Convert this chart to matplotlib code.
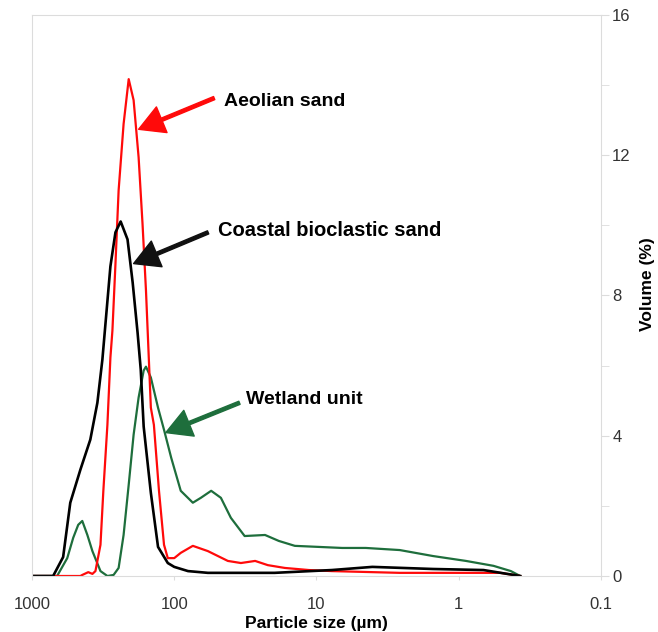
import matplotlib
matplotlib.use('Agg')
import matplotlib.pyplot as plt
import numpy as np

plt.rcParams['font.family'] = ['Liberation Sans', 'DejaVu Sans']

# particle size (um) and volume (%)
aeolian_size = [1000, 634, 457, 443, 402, 376, 358, 330, 315, 295, 281, 272, 259, 246,
                227, 209, 193, 178, 167, 158, 151, 146, 139, 128, 118, 111, 100, 90,
                74, 58, 42, 34, 27, 22, 16.7, 11.3, 7.8, 2.6, 0.89, 0.51, 0.37]
aeolian_vol = [0, 0, 0, 0.03, 0.11, 0.06, 0.14, 0.89, 2.43, 4.31, 6.23, 7.0, 8.89, 11.0,
               12.89, 14.17, 13.57, 11.94, 10.03, 8.14, 6.23, 4.8, 4.31, 2.43, 0.89, 0.51,
               0.51, 0.66, 0.86, 0.71, 0.43, 0.37, 0.43, 0.31, 0.23, 0.17, 0.14, 0.09,
               0.09, 0.09, 0]

coastal_size = [1000, 710, 604, 538, 457, 389, 347, 320, 281, 259, 238, 213, 196, 181,
                172, 164, 146, 130, 111, 100, 80, 58, 19.7, 7.8, 4.05, 1.52, 0.67, 0.37]
coastal_vol = [0, 0, 0.54, 2.09, 3.03, 3.89, 4.94, 6.17, 8.83, 9.8, 10.11, 9.6, 8.37,
               6.94, 5.89, 4.26, 2.37, 0.83, 0.37, 0.26, 0.14, 0.09, 0.09, 0.17, 0.26,
               0.2, 0.17, 0]

wetland_size = [1000, 666, 565, 513, 473, 443, 408, 376, 330, 295, 267, 246, 227, 209,
                193, 178, 164, 158, 146, 130, 118, 105, 90, 74, 65, 55, 47, 40, 32, 23,
                18.4, 14.2, 6.6, 4.5, 2.6, 1.52, 0.89, 0.57, 0.43, 0.37]
wetland_vol = [0, 0, 0.51, 1.09, 1.46, 1.57, 1.17, 0.71, 0.14, 0, 0.03, 0.23, 1.17, 2.6,
               4.03, 5.09, 5.86, 5.97, 5.66, 4.8, 4.17, 3.37, 2.43, 2.09, 2.23, 2.43,
               2.23, 1.66, 1.14, 1.17, 1.0, 0.86, 0.8, 0.8, 0.74, 0.57, 0.43, 0.29,
               0.14, 0]

red = '#ff0a0a'
green = '#1e6e3c'
grey = '#dcdcdc'

fig = plt.figure(figsize=(6.58, 6.32), dpi=100)
ax = fig.add_axes([0.0486, 0.0886, 0.8648, 0.8877])

ax.plot(wetland_size, wetland_vol, color=green, lw=1.6, solid_joinstyle='round')
ax.plot(aeolian_size, aeolian_vol, color=red, lw=1.6, solid_joinstyle='round')
ax.plot(coastal_size, coastal_vol, color='black', lw=1.9, solid_joinstyle='round')

ax.set_xscale('log')
ax.set_xlim(1000, 0.1)
ax.set_ylim(0, 16)
ax.set_xticks([1000, 100, 10, 1, 0.1])
ax.set_xticklabels(['1000', '100', '10', '1', '0.1'])
ax.xaxis.set_minor_locator(matplotlib.ticker.NullLocator())
ax.yaxis.tick_right()
ax.yaxis.set_label_position('right')
ax.set_yticks([0, 4, 8, 12, 16])
ax.set_yticks([2, 6, 10, 14], minor=True)

for s in ax.spines.values():
    s.set_color(grey)
    s.set_linewidth(0.8)
ax.tick_params(axis='both', which='both', color=grey, labelsize=12, labelcolor='#333333')
ax.tick_params(axis='y', which='both', length=6, pad=2)
ax.tick_params(axis='x', length=3, pad=12)

ax.set_xlabel('Particle size (\u00b5m)', fontsize=12.5, fontweight='bold', labelpad=3)
ax.set_ylabel('Volume (%)', fontsize=12.5, fontweight='bold')
ax.yaxis.set_label_coords(1.068, 0.52)

# labels with arrows
arrow_kw = dict(width=2.4, headwidth=20, headlength=18, shrink=0)
ax.annotate('', xy=(178, 12.74), xytext=(52.4, 13.63),
            arrowprops=dict(color=red, **arrow_kw))
ax.text(44.5, 13.54, 'Aeolian sand', fontsize=14, fontweight='bold', va='center', ha='left')

ax.annotate('', xy=(193, 8.91), xytext=(57.8, 9.8),
            arrowprops=dict(color='#111111', **arrow_kw))
ax.text(49.1, 9.86, 'Coastal bioclastic sand', fontsize=14.5, fontweight='bold',
        va='center', ha='left')

ax.annotate('', xy=(114.6, 4.09), xytext=(34.8, 4.94),
            arrowprops=dict(color=green, **arrow_kw))
ax.text(31.1, 5.03, 'Wetland unit', fontsize=14, fontweight='bold', va='center', ha='left')

fig.savefig('out.png', dpi=100)
